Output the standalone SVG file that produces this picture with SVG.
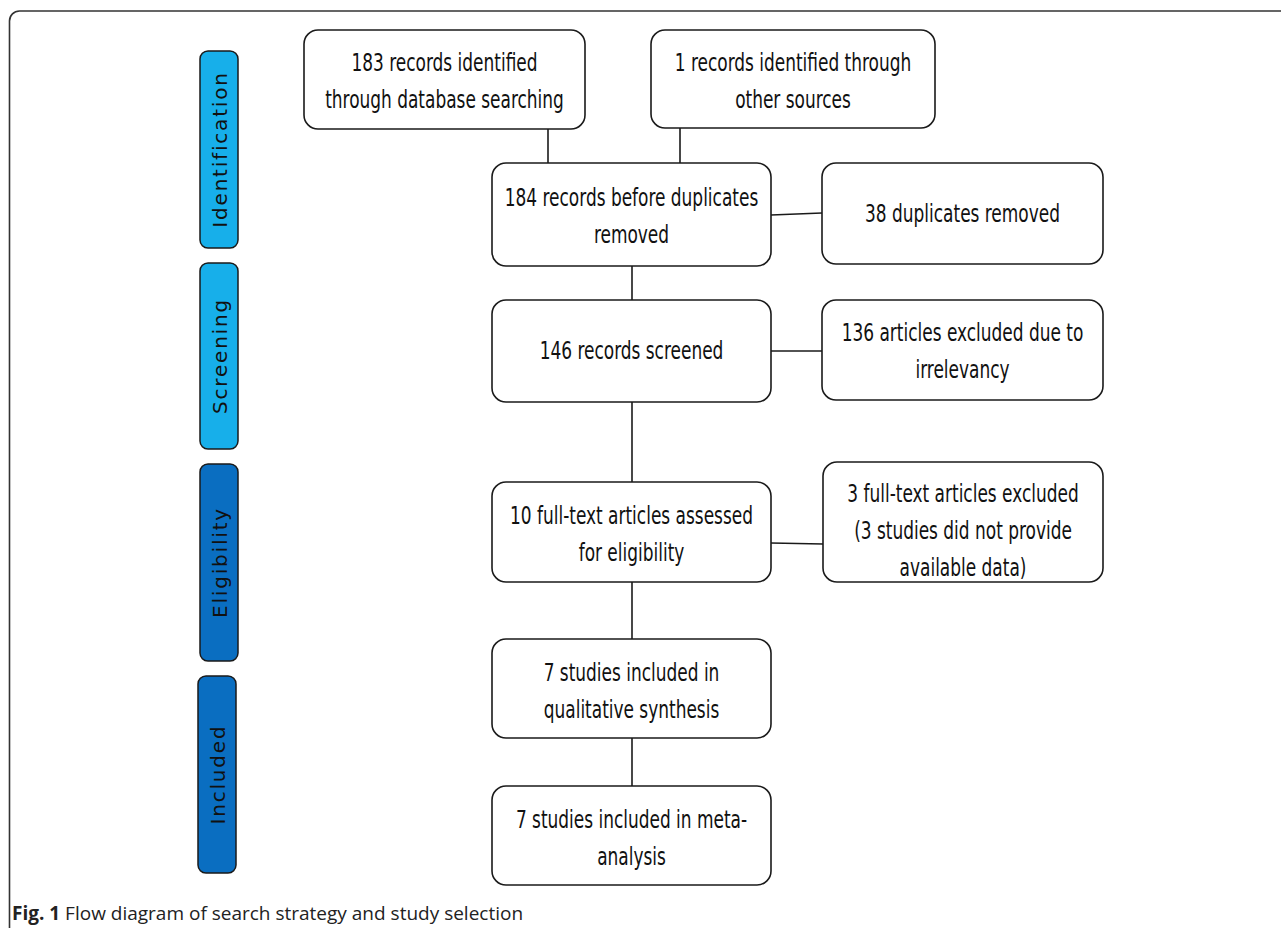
<svg xmlns="http://www.w3.org/2000/svg" width="1281" height="928" viewBox="0 0 1281 928">
<style>
.box{fill:#fff;stroke:#1a1a1a;stroke-width:1.6}
.t{font-family:"DejaVu Sans Condensed","Liberation Sans",sans-serif;font-size:24.5px;fill:#111;text-anchor:middle}
.stage{stroke:#1a1a1a;stroke-width:1.5}
.light{fill:#17afea}
.dark{fill:#0a6ec1}
.st{font-family:"DejaVu Sans",sans-serif;font-size:20px;fill:#111;text-anchor:middle;letter-spacing:1.8px}
.ln{stroke:#1a1a1a;stroke-width:1.6;fill:none}
.cap{font-family:"Open Sans",sans-serif;font-size:19px;fill:#222}
</style>
<rect width="1281" height="928" fill="#fff"/>
<path d="M9.5,928 V21 A10,10 0 0 1 19.5,11 H1281" fill="none" stroke="#333" stroke-width="1.6"/>
<g id="connectors">
<line class="ln" x1="548" y1="129" x2="548" y2="163"/>
<line class="ln" x1="680" y1="128" x2="680" y2="163"/>
<line class="ln" x1="771" y1="215" x2="822" y2="213"/>
<line class="ln" x1="632" y1="266" x2="632" y2="300"/>
<line class="ln" x1="771" y1="351" x2="822" y2="351"/>
<line class="ln" x1="632" y1="402" x2="632" y2="482"/>
<line class="ln" x1="771" y1="543" x2="823" y2="544"/>
<line class="ln" x1="632" y1="582" x2="632" y2="639"/>
<line class="ln" x1="632" y1="738" x2="632" y2="786"/>
</g>
<g id="stage-identification"><rect class="stage light" x="200" y="51" width="38" height="197" rx="8"/><text class="st" transform="translate(226.5,149.5) rotate(-90)">Identification</text></g>
<g id="stage-screening"><rect class="stage light" x="200" y="263" width="38" height="186" rx="8"/><text class="st" transform="translate(226.5,356) rotate(-90)">Screening</text></g>
<g id="stage-eligibility"><rect class="stage dark" x="200" y="464" width="38" height="197" rx="8"/><text class="st" transform="translate(226.5,562.5) rotate(-90)">Eligibility</text></g>
<g id="stage-included"><rect class="stage dark" x="198" y="676" width="38" height="197" rx="8"/><text class="st" transform="translate(224.5,774.5) rotate(-90)">Included</text></g>
<g id="n1"><rect class="box" x="304" y="30" width="281" height="99" rx="14"/><g transform="translate(444.5,0) scale(0.77,1)"><text class="t" x="0" y="71">183 records identified</text><text class="t" x="0" y="108">through database searching</text></g></g>
<g id="n2"><rect class="box" x="651" y="30" width="284" height="98" rx="14"/><g transform="translate(793,0) scale(0.77,1)"><text class="t" x="0" y="71">1 records  identified through</text><text class="t" x="0" y="108">other sources</text></g></g>
<g id="n3"><rect class="box" x="492" y="163" width="279" height="103" rx="14"/><g transform="translate(631.5,0) scale(0.77,1)"><text class="t" x="0" y="206">184 records before duplicates</text><text class="t" x="0" y="243">removed</text></g></g>
<g id="n4"><rect class="box" x="822" y="163" width="281" height="101" rx="14"/><g transform="translate(962.5,0) scale(0.77,1)"><text class="t" x="0" y="222">38 duplicates removed</text></g></g>
<g id="n5"><rect class="box" x="492" y="300" width="279" height="102" rx="14"/><g transform="translate(631.5,0) scale(0.77,1)"><text class="t" x="0" y="359">146 records screened</text></g></g>
<g id="n6"><rect class="box" x="822" y="300" width="281" height="100" rx="14"/><g transform="translate(962.5,0) scale(0.77,1)"><text class="t" x="0" y="341">136 articles excluded due to</text><text class="t" x="0" y="378">irrelevancy</text></g></g>
<g id="n7"><rect class="box" x="492" y="482" width="279" height="100" rx="14"/><g transform="translate(631.5,0) scale(0.77,1)"><text class="t" x="0" y="524">10 full-text articles assessed</text><text class="t" x="0" y="561">for eligibility</text></g></g>
<g id="n8"><rect class="box" x="823" y="462" width="280" height="120" rx="14"/><g transform="translate(963,0) scale(0.77,1)"><text class="t" x="0" y="502">3 full-text articles excluded</text><text class="t" x="0" y="539">(3 studies did not provide</text><text class="t" x="0" y="576">available  data)</text></g></g>
<g id="n9"><rect class="box" x="492" y="639" width="279" height="99" rx="14"/><g transform="translate(631.5,0) scale(0.77,1)"><text class="t" x="0" y="681">7 studies included in</text><text class="t" x="0" y="718">qualitative synthesis</text></g></g>
<g id="n10"><rect class="box" x="492" y="786" width="279" height="99" rx="14"/><g transform="translate(631.5,0) scale(0.77,1)"><text class="t" x="0" y="828">7 studies included in meta-</text><text class="t" x="0" y="865">analysis</text></g></g>
<text class="cap" x="12" y="920"><tspan font-weight="bold">Fig. 1</tspan> Flow diagram of search strategy and study selection</text>
</svg>
